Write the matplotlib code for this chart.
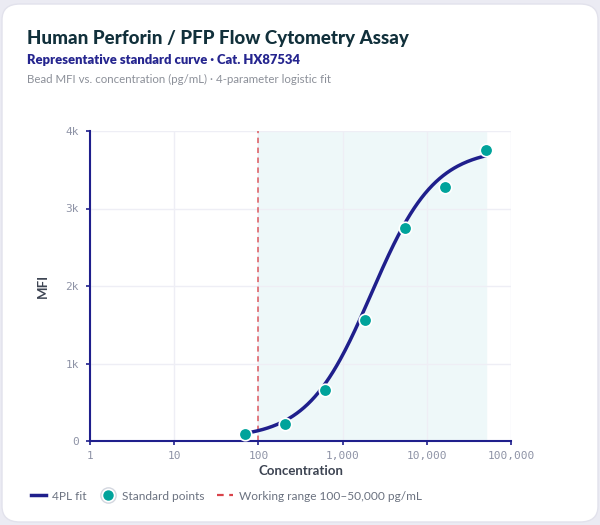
import numpy as np
import matplotlib
matplotlib.use('Agg')
import matplotlib.pyplot as plt
from matplotlib.patches import FancyBboxPatch
from matplotlib.lines import Line2D
from matplotlib.ticker import FixedLocator, FixedFormatter

# standard points (pg/mL, MFI)
conc = [68.6, 206, 617, 1852, 5556, 16667, 50000]
mfi = [87, 223, 658, 1561, 2752, 3281, 3755]

# 4PL fit parameters (bottom, top, EC50, hill)
fit_bottom = 30
fit_top = 3780
fit_ec50 = 2200
fit_hill = 1.15

range_lo = 100
range_hi = 50000

x_ticks = [1, 10, 100, 1000, 10000, 100000]
x_labels = ['1', '10', '100', '1,000', '10,000', '100,000']
y_ticks = [0, 1000, 2000, 3000, 4000]
y_labels = ['0', '1k', '2k', '3k', '4k']

navy = '#1f1f8c'
teal = '#00a39b'
red = '#d9434a'

plt.rcParams['font.family'] = ['Lato', 'DejaVu Sans']

fig = plt.figure(figsize=(6, 5.25), dpi=100, facecolor='#ebebf3')

# card background
card = FancyBboxPatch((2 / 600, 3 / 525), 596 / 600, 518 / 525,
                      boxstyle='round,pad=0,rounding_size=0.03',
                      transform=fig.transFigure, facecolor='white',
                      edgecolor='#e2e2ec', linewidth=1, zorder=-5)
fig.patches.append(card)

fig.text(27 / 600, 1 - 44 / 525, 'Human Perforin / PFP Flow Cytometry Assay',
         fontsize=13.5, fontweight='black', color='#11303b', va='baseline')
fig.text(27 / 600, 1 - 64 / 525, 'Representative standard curve · Cat. HX87534',
         fontsize=9.4, fontweight='heavy', color='#25258f', va='baseline')
fig.text(27 / 600, 1 - 83 / 525, 'Bead MFI vs. concentration (pg/mL) · 4-parameter logistic fit',
         fontsize=8.3, color='#8c9099', va='baseline')

ax = fig.add_axes([90 / 600, 1 - 441 / 525, 421 / 600, 310 / 525])
ax.set_facecolor('white')

ax.set_xscale('log')
ax.set_xlim(1, 100000)
ax.set_ylim(0, 4000)

ax.axvspan(range_lo, range_hi, color='#eef8f9', zorder=0)
ax.axvline(range_lo, color=red, alpha=0.75, linestyle=(0, (3, 2.5)), linewidth=1.3, zorder=1)

xs = np.logspace(np.log10(conc[0]), np.log10(conc[-1]), 200)
ys = fit_bottom + (fit_top - fit_bottom) / (1 + (fit_ec50 / xs) ** fit_hill)
ax.plot(xs, ys, color=navy, linewidth=2.5, zorder=3, solid_capstyle='round')
ax.plot(conc, mfi, 'o', color=teal, markersize=9, markeredgecolor='white',
        markeredgewidth=1.2, zorder=4, clip_on=False)

ax.xaxis.set_major_locator(FixedLocator(x_ticks))
ax.xaxis.set_major_formatter(FixedFormatter(x_labels))
ax.xaxis.set_minor_locator(FixedLocator([]))
ax.set_yticks(y_ticks)
ax.set_yticklabels(y_labels)

ax.grid(True, color='#eeeef5', linewidth=1)
ax.set_axisbelow(True)
for s in ['top', 'right']:
    ax.spines[s].set_visible(False)
for s in ['left', 'bottom']:
    ax.spines[s].set_color(navy)
    ax.spines[s].set_linewidth(1.5)
ax.tick_params(length=3, width=1.2, color=navy, labelcolor='#8e93a6')
ax.tick_params(axis='x', pad=4)
ax.tick_params(axis='y', pad=5)
for lab in ax.get_xticklabels() + ax.get_yticklabels():
    lab.set_family('DejaVu Sans Mono')
    lab.set_fontsize(8)

ax.set_xlabel('Concentration', fontsize=9.5, fontweight='bold', color='#3d4452', labelpad=3)
ax.set_ylabel('MFI', fontsize=9.5, fontweight='bold', color='#3d4452', labelpad=12)

h_fit = Line2D([], [], color=navy, linewidth=2.5)
h_ring = Line2D([], [], marker='o', linestyle='none', markersize=11,
                markerfacecolor='white', markeredgecolor='#d3d7df', markeredgewidth=1)
h_dot = Line2D([], [], marker='o', linestyle='none', markersize=6.5, color=teal)
h_rng = Line2D([], [], color=red, linestyle=(0, (3, 2.5)), linewidth=1.6)
fig.legend([h_fit, (h_ring, h_dot), h_rng],
           ['4PL fit', 'Standard points', 'Working range 100–50,000 pg/mL'],
           loc='center left', bbox_to_anchor=(20 / 600, 1 - 496 / 525), ncol=3,
           frameon=False, fontsize=8.6, labelcolor='#6b7280', handlelength=1.3,
           handletextpad=0.5, columnspacing=1.1)

plt.savefig('out.png', dpi=100, facecolor=fig.get_facecolor())
